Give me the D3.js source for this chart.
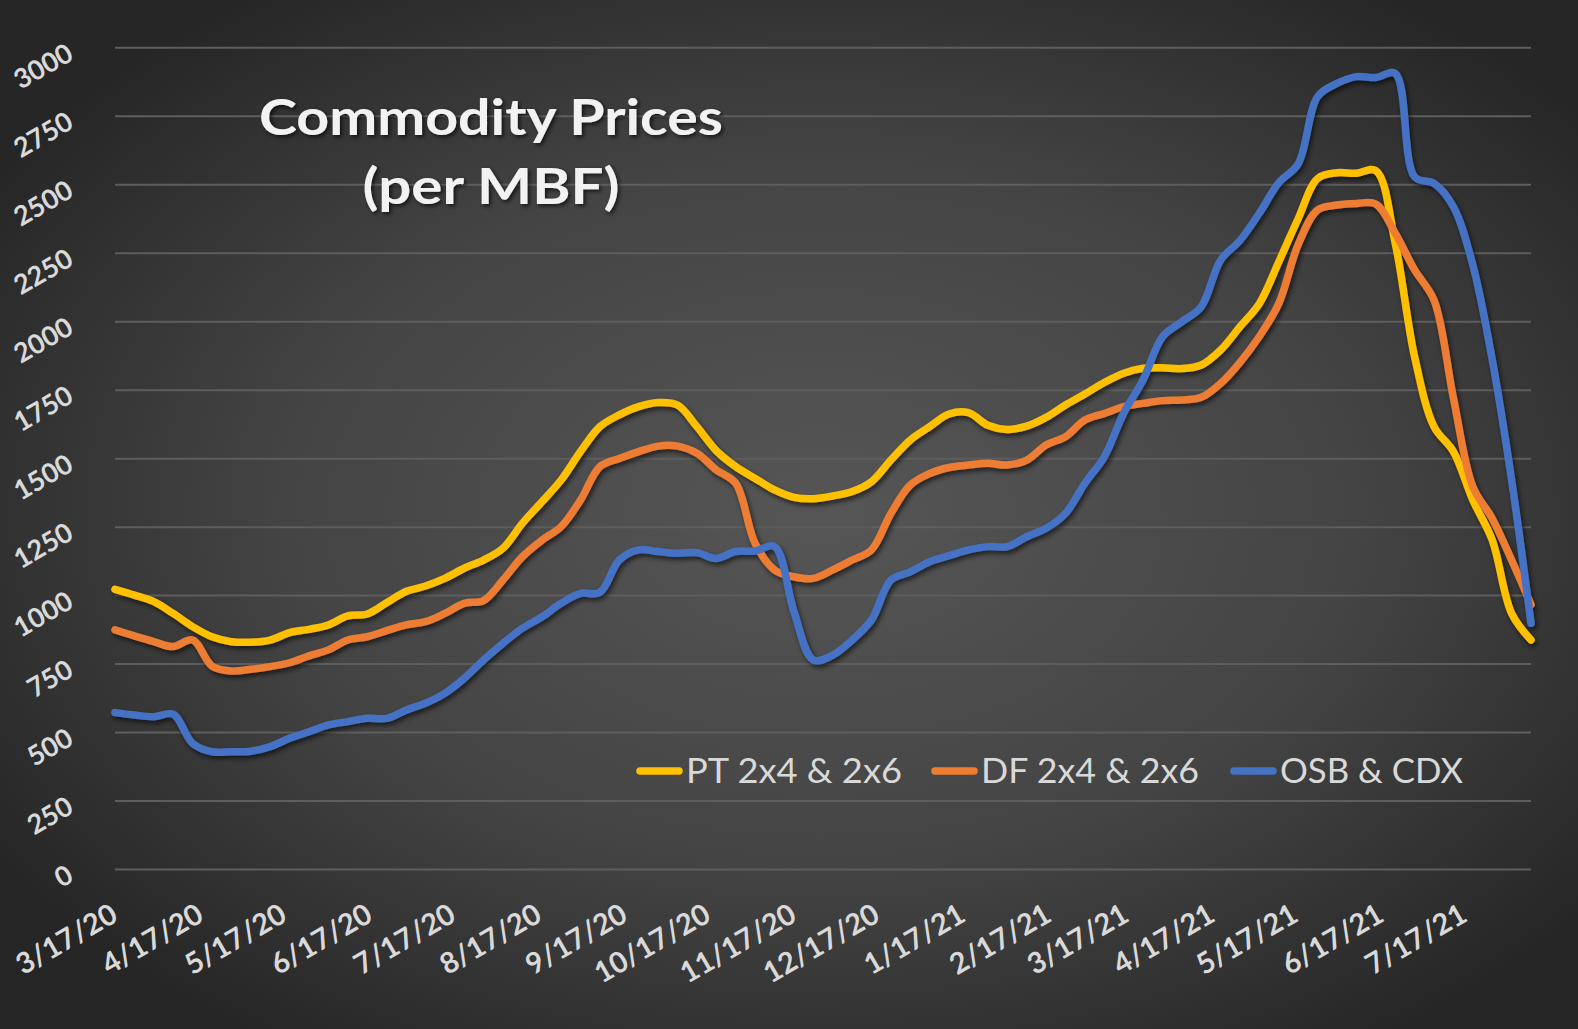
<!DOCTYPE html>
<html>
<head>
<meta charset="utf-8">
<script src="https://cdn.jsdelivr.net/npm/d3@7"></script>
<style>
html,body{margin:0;padding:0;background:#2a2a2a;}
svg{display:block;}
</style>
</head>
<body>
<svg id="chart" width="1578" height="1029"></svg>
<script>
// ---- data ----
const dates = ["3/17/20","3/24/20","3/31/20","4/7/20","4/14/20","4/21/20","4/28/20","5/5/20","5/12/20","5/19/20","5/26/20","6/2/20","6/9/20","6/16/20","6/23/20","6/30/20","7/7/20","7/14/20","7/21/20","7/28/20","8/4/20","8/11/20","8/18/20","8/25/20","9/1/20","9/8/20","9/15/20","9/22/20","9/29/20","10/6/20","10/13/20","10/20/20","10/27/20","11/3/20","11/10/20","11/17/20","11/24/20","12/1/20","12/8/20","12/15/20","12/22/20","12/29/20","1/5/21","1/12/21","1/19/21","1/26/21","2/2/21","2/9/21","2/16/21","2/23/21","3/2/21","3/9/21","3/16/21","3/23/21","3/30/21","4/6/21","4/13/21","4/20/21","4/27/21","5/4/21","5/11/21","5/18/21","5/25/21","6/1/21","6/8/21","6/15/21","6/22/21","6/29/21","7/6/21","7/13/21","7/20/21","7/27/21","8/3/21","8/10/21"];
const ptValues = [1021,1000,976,933,885,848,830,828,836,863,875,891,924,931,972,1013,1033,1061,1098,1128,1171,1262,1340,1420,1524,1615,1658,1688,1703,1694,1615,1527,1469,1426,1384,1357,1352,1362,1378,1414,1493,1566,1615,1661,1666,1620,1605,1617,1649,1694,1734,1776,1810,1828,1830,1827,1840,1895,1980,2065,2217,2375,2521,2542,2540,2550,2285,1870,1615,1524,1347,1201,933,836];
const dfValues = [873,851,830,812,836,741,723,729,739,753,778,800,836,848,870,891,903,933,970,980,1055,1140,1200,1250,1347,1469,1499,1524,1544,1544,1518,1457,1408,1189,1092,1067,1061,1092,1128,1165,1298,1402,1444,1466,1475,1481,1475,1493,1548,1578,1639,1663,1688,1700,1710,1712,1722,1773,1850,1945,2065,2280,2406,2424,2430,2428,2321,2187,2077,1720,1396,1280,1128,965];
const osbValues = [571,562,556,565,459,428,428,430,447,477,501,526,538,550,550,580,605,641,696,763,824,879,920,970,1006,1010,1128,1165,1159,1153,1155,1134,1159,1161,1177,940,763,781,836,909,1055,1085,1122,1144,1165,1177,1177,1213,1244,1298,1408,1505,1664,1785,1943,1998,2053,2223,2295,2395,2506,2575,2820,2868,2893,2890,2905,2527,2503,2418,2205,1860,1420,897];
const seriesNames = ["PT 2x4 & 2x6","DF 2x4 & 2x6","OSB & CDX"];
const seriesColors = ["#FFC000","#ED7D31","#4472C4"];
const yTicks = [0,250,500,750,1000,1250,1500,1750,2000,2250,2500,2750,3000];
const xTickLabels = ["3/17/20","4/17/20","5/17/20","6/17/20","7/17/20","8/17/20","9/17/20","10/17/20","11/17/20","12/17/20","1/17/21","2/17/21","3/17/21","4/17/21","5/17/21","6/17/21","7/17/21"];
const titleLines = ["Commodity Prices","(per MBF)"];

// ---- layout ----
const W = 1578, H = 1029;
const plot = {left:115, right:1531, top:47.3, bottom:869};
const parse = d3.timeParse("%m/%d/%y");
const svg = d3.select("#chart");
const defs = svg.append("defs");

const grad = defs.append("radialGradient").attr("id","bg")
  .attr("cx","52%").attr("cy","50%").attr("r","62%");
grad.append("stop").attr("offset","0%").attr("stop-color","#565656");
grad.append("stop").attr("offset","55%").attr("stop-color","#444444");
grad.append("stop").attr("offset","100%").attr("stop-color","#262626");

const sh = defs.append("filter").attr("id","shadow").attr("x","-5%").attr("y","-5%").attr("width","110%").attr("height","110%");
sh.append("feDropShadow").attr("dx",2).attr("dy",3).attr("stdDeviation",2.5).attr("flood-color","#000").attr("flood-opacity",0.6);
const tsh = defs.append("filter").attr("id","tshadow").attr("x","-10%").attr("y","-20%").attr("width","120%").attr("height","140%");
tsh.append("feDropShadow").attr("dx",2).attr("dy",2).attr("stdDeviation",2).attr("flood-color","#000").attr("flood-opacity",0.7);

svg.append("rect").attr("width",W).attr("height",H).attr("fill","url(#bg)");

const x = d3.scaleTime().domain([parse(dates[0]), parse(dates[dates.length-1])]).range([plot.left, plot.right]);
const y = d3.scaleLinear().domain([0,3000]).range([plot.bottom, plot.top]);

// gridlines
const grid = svg.append("g").attr("transform",`translate(${plot.left},0)`)
  .call(d3.axisRight(y).tickValues(yTicks).tickSize(plot.right-plot.left).tickFormat(""));
grid.select(".domain").remove();
grid.selectAll("line").attr("stroke","#5e5e5e").attr("stroke-width",2);

// y axis labels
const yAxis = svg.append("g").call(d3.axisLeft(y).tickValues(yTicks).tickFormat(d3.format("d")).tickSize(0).tickPadding(0));
yAxis.select(".domain").remove();
yAxis.selectAll("text")
  .attr("x",0).attr("dy",null)
  .attr("transform","translate(75,11) rotate(-30)")
  .attr("text-anchor","end")
  .attr("fill","#d9d9d9")
  .style("font-family","Lato, 'Open Sans', sans-serif")
  .style("font-weight","700")
  .style("font-size","27px");

// x axis labels
const xAxis = svg.append("g").call(d3.axisBottom(x).tickValues(xTickLabels.map(parse)).tickFormat((d,i)=>xTickLabels[i]).tickSize(0).tickPadding(0));
xAxis.select(".domain").remove();
xAxis.selectAll("text")
  .attr("y",0).attr("dy",null)
  .attr("transform","translate(4,920) rotate(-30)")
  .attr("text-anchor","end")
  .attr("fill","#d9d9d9")
  .style("font-family","Lato, 'Open Sans', sans-serif")
  .style("font-weight","700")
  .style("font-size","29px");

// lines
const line = d3.line().x(d=>x(d.date)).y(d=>y(d.v)).curve(d3.curveCatmullRom.alpha(0.5));
const allSeries = [ptValues, dfValues, osbValues].map((vals,k)=>({
  name: seriesNames[k], color: seriesColors[k],
  pts: vals.map((v,i)=>({date: parse(dates[i]), v}))
}));
svg.append("g").attr("filter","url(#shadow)").selectAll("path").data(allSeries).join("path")
  .attr("d",d=>line(d.pts)).attr("fill","none").attr("stroke",d=>d.color)
  .attr("stroke-width",7.5).attr("stroke-linejoin","round").attr("stroke-linecap","round");

// title
const title = svg.append("g").attr("filter","url(#tshadow)");
const titleY = [135, 204], titleW = [464, 257];
titleLines.forEach((t,i)=>{
  title.append("text").attr("x",491).attr("y",titleY[i]).attr("text-anchor","middle")
    .attr("textLength",titleW[i]).attr("lengthAdjust","spacingAndGlyphs")
    .attr("fill","#f2f2f2").style("font-family","Lato, 'Open Sans', sans-serif")
    .style("font-weight","700").style("font-size","50px").text(t);
});

// legend
const legX = [640, 935, 1234], legTextW = [216, 218, 183];
const leg = svg.append("g");
allSeries.forEach((s,k)=>{
  leg.append("line").attr("x1",legX[k]).attr("x2",legX[k]+39).attr("y1",771).attr("y2",771)
    .attr("stroke",s.color).attr("stroke-width",7.5).attr("stroke-linecap","round");
  leg.append("text").attr("x",legX[k]+46).attr("y",783)
    .attr("textLength",legTextW[k]).attr("lengthAdjust","spacingAndGlyphs")
    .attr("fill","#d9d9d9").style("font-family","Lato, 'Open Sans', sans-serif")
    .style("font-size","34px").text(s.name);
});
</script>
</body>
</html>
